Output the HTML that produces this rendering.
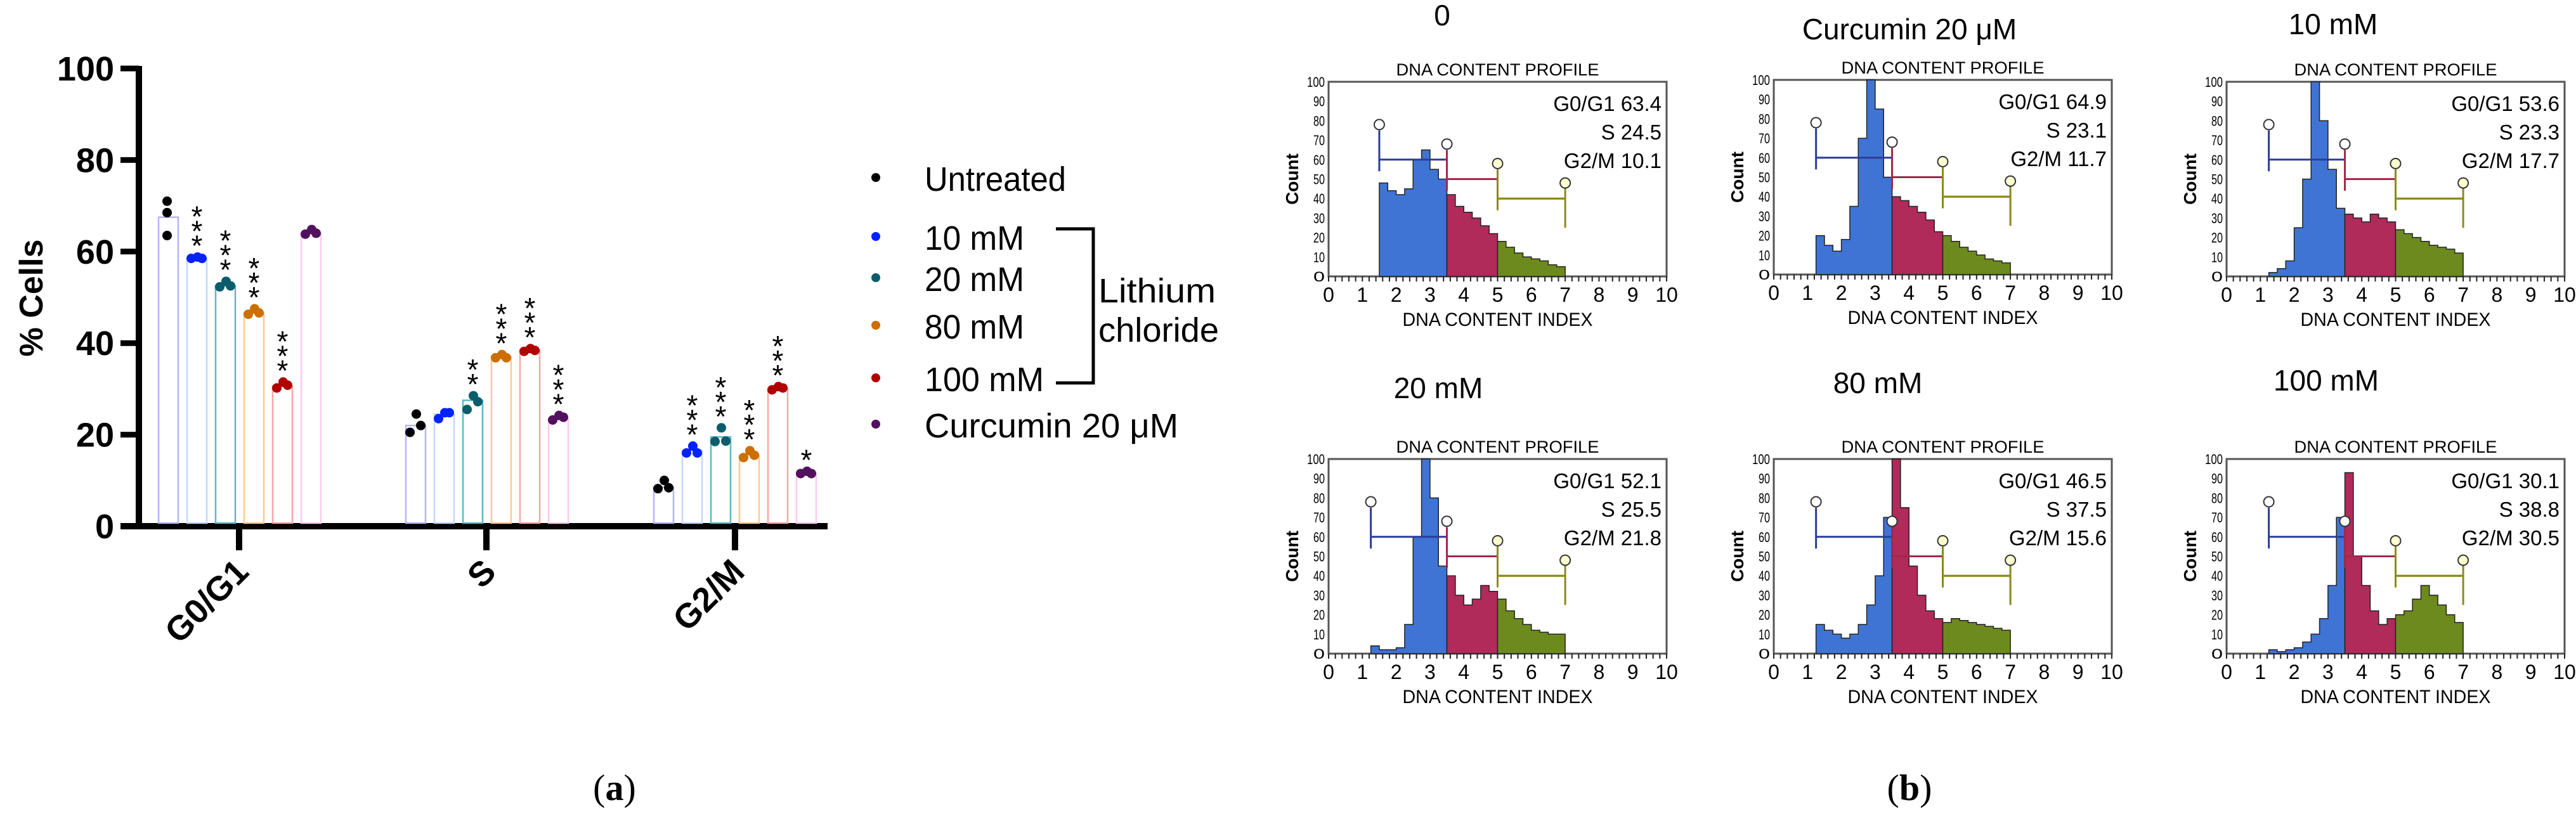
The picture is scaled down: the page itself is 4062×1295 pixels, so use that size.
<!DOCTYPE html>
<html><head><meta charset="utf-8"><style>
html,body{margin:0;padding:0;background:#fff;}
svg{display:block;font-family:"Liberation Sans",sans-serif;}
</style></head><body>
<svg id="fig" width="4062" height="1295" viewBox="0 0 4062 1295" xmlns="http://www.w3.org/2000/svg">
<g id="panelA"></g>
<g id="panelB"></g>
<text x="969" y="1262" font-family="Liberation Serif, serif" font-size="58" text-anchor="middle">(<tspan font-weight="bold">a</tspan>)</text>
<text x="3011" y="1262" font-family="Liberation Serif, serif" font-size="58" text-anchor="middle">(<tspan font-weight="bold">b</tspan>)</text>
</svg>
<script>
// ---------- Panel A data ----------
const categories = ["G0/G1","S","G2/M"];
const seriesNames = ["Untreated","10 mM","20 mM","80 mM","100 mM","Curcumin 20 \u03bcM"];
const meanG0G1 = [67.5,58.5,52.5,46.5,30.5,64];
const meanS = [22,24.5,27.5,37,38.5,23.5];
const meanG2M = [8.5,16.5,19.5,15.5,30,11.5];
const repG0G1 = [[63.5,68.5,71],[58.5,58.8,58.5],[52.3,53.5,52.5],[46.3,47.5,46.6],[30.2,31.5,30.8],[63.8,64.8,64]];
const repS = [[20.5,24.5,22],[23.5,24.8,24.8],[25.5,28.5,27.2],[36.8,37.5,36.8],[38.2,38.8,38.4],[23.2,24.2,23.8]];
const repG2M = [[8.2,10,8.4],[16,17.5,16],[18.5,21.5,18.6],[15,16.5,15.5],[29.8,30.5,30.2],[11.5,12,11.5]];
const starsG0G1 = ["","***","***","***","***",""];
const starsS = ["","","**","***","***","***"];
const starsG2M = ["","***","***","***","***","*"];
const yTicks = [0,20,40,60,80,100];

const NS="http://www.w3.org/2000/svg";
function mk(tag,attrs,parent,txt){const e=document.createElementNS(NS,tag);for(const k in attrs)e.setAttribute(k,attrs[k]);if(txt!==undefined)e.textContent=txt;parent.appendChild(e);return e;}

const A=document.getElementById('panelA');
const y0=830, yTop=108;
const yS=v=>y0-(v-0)/(100)*(y0-yTop);
const groupStart=[250,640,1031], pitch=45, barW=31;
const xBar=(g,i)=>groupStart[g]+i*pitch;
const outline=["#b4b4ff","#c2d8ff","#5cb8c4","#ffc890","#ffa4a4","#ffc8f0"];
const dotCol=["#000000","#0022ff","#0b5d6c","#cc6e00","#b00000","#52105e"];
const means=[meanG0G1,meanS,meanG2M], reps=[repG0G1,repS,repG2M], stars=[starsG0G1,starsS,starsG2M];

let ax=mk('line',{x1:219,y1:yTop-4,x2:219,y2:y0+5,stroke:'#000','stroke-width':10},A);

let axx=mk('line',{x1:190,y1:y0,x2:1305,y2:y0,stroke:'#000','stroke-width':10},A);

yTicks.forEach(t=>{
  const tl=mk('line',{x1:190,y1:yS(t),x2:219,y2:yS(t),stroke:'#000','stroke-width':9},A);
  
  const tx=mk('text',{x:180,y:yS(t)+19,'font-size':54,'font-weight':'bold','text-anchor':'end'},A,String(t));
  
});
const yt=mk('text',{x:0,y:0,'font-size':52,'font-weight':'bold','text-anchor':'middle',transform:'translate(67,470) rotate(-90)'},A,'% Cells');


categories.forEach((c,g)=>{
  const cx=g===0?377:(g===1?767:1159);
  const tk=mk('line',{x1:cx,y1:y0,x2:cx,y2:y0+38,stroke:'#000','stroke-width':10},A);
  
  const lb=mk('text',{x:0,y:0,'font-size':54,'font-weight':'bold','text-anchor':'end',transform:`translate(${cx+18},${y0+75}) rotate(-45)`},A,c);
  
  for(let i=0;i<6;i++){
    const x=xBar(g,i), m=means[g][i];
    const r=mk('rect',{x:x,y:yS(m),width:barW,height:y0-5-yS(m),fill:'none',stroke:outline[i],'stroke-width':2.5},A);
    
    const rp=reps[g][i];const dx=(g===0&&i===0)?[0,0,0]:[-7,3,10];
    let top=1e9;
    rp.forEach((v,k)=>{
      const cy=yS(v);top=Math.min(top,cy);
      const d=mk('circle',{cx:x+barW/2+dx[k]-2,cy:cy,r:7.5,fill:dotCol[i]},A);
      
    });
    const s=stars[g][i];
    for(let k=0;k<s.length;k++){
      const st=mk('text',{x:x+barW/2,y:top-2-k*23,'font-size':46,'text-anchor':'middle'},A,'*');
      
    }
  }
});
const legY=[282,375,440,515,598,671];
seriesNames.forEach((n,i)=>{
  const d=mk('circle',{cx:1381,cy:legY[i]-2,r:7,fill:dotCol[i]},A);
  
  const t=mk('text',{x:1458,y:legY[i]+19,'font-size':54,textLength:(i===0?223:(i===5?400:(i===4?188:157))),lengthAdjust:'spacingAndGlyphs'},A,n);
  
});
const br=mk('polyline',{points:'1665,361 1724,361 1724,604 1665,604',fill:'none',stroke:'#000','stroke-width':5},A);

const l1=mk('text',{x:1732,y:477,'font-size':54,textLength:185,lengthAdjust:'spacingAndGlyphs'},A,'Lithium');

const l2=mk('text',{x:1732,y:539,'font-size':54,textLength:190,lengthAdjust:'spacingAndGlyphs'},A,'chloride');


// ---------- Panel B data ----------
const histTitles = ["0","Curcumin 20 \u03bcM","10 mM","20 mM","80 mM","100 mM"];
const histStart = [1.5,1.25,1.25,1.25,1.25,1.25];
const hist0 = [48,44,42,45,60,65,55,50,42,36,33,30,26,22,18,15,12,10,9,8,6,5,4];
const hist1 = [20,15,12,18,35,70,100,85,50,40,38,35,32,28,22,20,17,14,12,10,8,7,6,5];
const hist2 = [2,4,8,25,50,100,80,55,35,32,30,28,32,30,28,24,22,20,18,16,15,14,12,11];
const hist3 = [4,2,2,3,15,60,100,80,45,40,30,25,28,35,32,28,22,18,15,12,11,10,10,10];
const hist4 = [15,12,10,8,10,15,25,40,70,100,75,45,30,22,18,16,18,17,16,15,14,13,12,10];
const hist5 = [2,1,2,3,6,10,18,35,70,93,50,35,22,15,18,20,22,28,35,30,25,20,16,14];
const statG0 = ["63.4","64.9","53.6","52.1","46.5","30.1"];
const statS = ["24.5","23.1","23.3","25.5","37.5","38.8"];
const statG2 = ["10.1","11.7","17.7","21.8","15.6","30.5"];
const hists=[hist0,hist1,hist2,hist3,hist4,hist5];
const frameX=[2095,2797,3511,2095,2797,3511], frameY=[129,126,129,724,724,724];
const titleY=[40,62,54,628,620,616], titleX=[2274,3011,3679,2268,2961,3668];
const B=document.getElementById('panelB');
const FW=533, FH=307;
hists.forEach((h,p)=>{
  const fx=frameX[p], fy=frameY[p];
  const px=v=>fx+v/10*FW, py=v=>fy+FH-v/100*FH;
  const g=mk('g',{},B);
  const tt=mk('text',{x:titleX[p],y:titleY[p],'font-size':46,'text-anchor':'middle'},g,histTitles[p]);
  
  const pt=mk('text',{x:fx+FW/2,y:fy-10,'font-size':27,'text-anchor':'middle',textLength:320,lengthAdjust:'spacingAndGlyphs'},g,'DNA CONTENT PROFILE');
  
  const fr=mk('rect',{x:fx,y:fy,width:FW,height:FH,fill:'#fff',stroke:'#555','stroke-width':3},g);
  
  const phases=[[0,3.5,'#3f74d4'],[3.5,5,'#b02a5a'],[5,7.01,'#6d8a1e']];
  phases.forEach(([a,b,col])=>{
    let pts=[];
    h.forEach((v,k)=>{const xv=histStart[p]+k*0.25; if(xv>=a-1e-6&&xv<b){pts.push([xv,v]);}});
    if(!pts.length)return;
    let d=`M${px(pts[0][0])},${py(0)}`;
    pts.forEach(([xv,v])=>{const xe=Math.min(xv+0.25,b>7?7:b);d+=` L${px(xv)},${py(v)} L${px(xe)},${py(v)}`;});
    const last=Math.min(pts[pts.length-1][0]+0.25,b>7?7:b);
    d+=` L${px(last)},${py(0)} Z`;
    const ph=mk('path',{d:d,fill:col,stroke:'#222','stroke-width':1.5},g);
    
  });
  const s0=histStart[p];
  const gates=[['#2a3c9a',s0,3.5,60,78],['#a0284a',3.5,5,50,68],['#8a8a18',5,7,40,58]];
  gates.forEach(([col,a,b,lv,ct],k)=>{
    const gl=mk('path',{d:`M${px(a)},${py(ct-3)} L${px(a)},${py(lv-6)} M${px(a)},${py(lv)} L${px(b)},${py(lv)}`,stroke:col,'stroke-width':3,fill:'none'},g);
    
    const cc=mk('circle',{cx:px(a),cy:py(ct),r:8,fill:k===2?'#ffffd0':'#fff',stroke:'#333','stroke-width':2},g);
    
  });
  const ge=mk('path',{d:`M${px(7)},${py(48)} L${px(7)},${py(25)} M${px(7)},${py(40)} L${px(5)},${py(40)}`,stroke:'#8a8a18','stroke-width':3},g);
  
  const ce=mk('circle',{cx:px(7),cy:py(48),r:8,fill:'#ffffd0',stroke:'#333','stroke-width':2},g);
  
  [['G0/G1 '+statG0[p],0],['S '+statS[p],1],['G2/M '+statG2[p],2]].forEach(([t,k])=>{
    const st=mk('text',{x:fx+FW-8,y:fy+46+k*45,'font-size':33,'text-anchor':'end'},g,t);
    
  });
  for(let v=0;v<=100;v+=10){
    const yl=mk('text',{x:fx-6,y:py(v)+8,'font-size':22,'text-anchor':'end',textLength:v===100?28:18,lengthAdjust:'spacingAndGlyphs'},g,String(v));
    
  }
  let tk='';for(let v=0;v<=10;v+=0.2){tk+=`M${px(v)},${fy+FH} L${px(v)},${fy+FH+8} `;}
  const tp=mk('path',{d:tk,stroke:'#222','stroke-width':2},g);
  
  for(let v=0;v<=10;v++){
    const xl=mk('text',{x:px(v),y:fy+FH+40,'font-size':32,'text-anchor':'middle'},g,String(v));
    
  }
  const xt=mk('text',{x:fx+FW/2,y:fy+FH+78,'font-size':30,'text-anchor':'middle',textLength:300,lengthAdjust:'spacingAndGlyphs'},g,'DNA CONTENT INDEX');
  
  const ct=mk('text',{x:0,y:0,'font-size':28,'font-weight':'bold','text-anchor':'middle',transform:`translate(${fx-48},${fy+FH/2}) rotate(-90)`},g,'Count');
  
});
</script>
</body></html>
